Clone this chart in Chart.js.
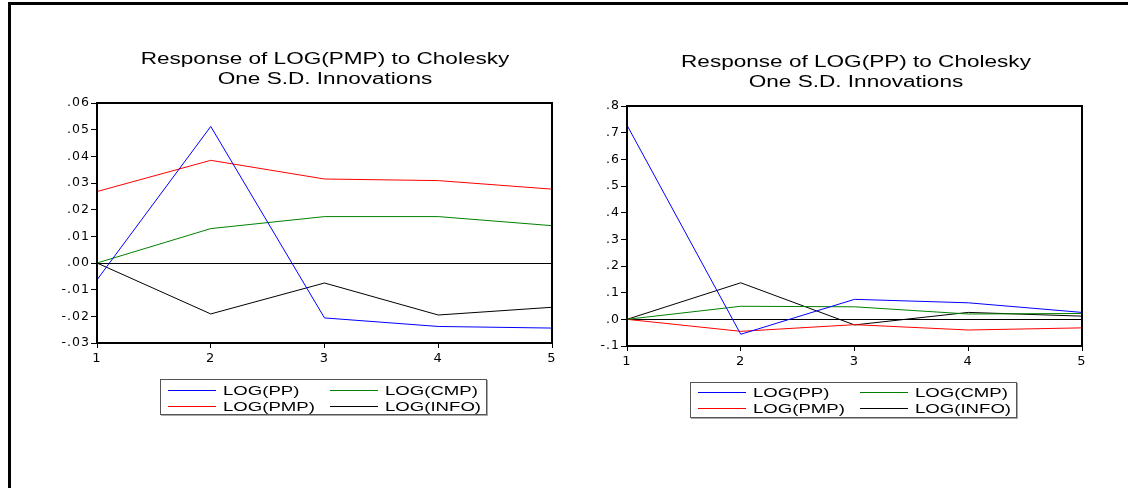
<!DOCTYPE html>
<html>
<head>
<meta charset="utf-8">
<script src="https://cdn.jsdelivr.net/npm/chart.js@4.4.1/dist/chart.umd.min.js"></script>
<style>
  html, body { margin: 0; padding: 0; background: #fff; }
  body { width: 1128px; height: 488px; position: relative; overflow: hidden; font-family: 'Liberation Sans', Arial, sans-serif; color: #000; }
  .frame { position: absolute; left: 8px; top: 2px; width: 1120px; height: 490px; border-left: 3px solid #000; border-top: 3px solid #000; box-sizing: border-box; }
  canvas { position: absolute; top: 0; }
  .title { position: absolute; width: 600px; text-align: center; font-size: 16px; line-height: 20px; white-space: nowrap; transform: scaleX(1.41); transform-origin: center; }
  .legend { position: absolute; width: 327px; height: 36px; border: 1px solid #555; box-sizing: border-box; box-shadow: 1px 1px 0 #aaa; background: #fff; }
  .legend .swatch { position: absolute; width: 48px; height: 1px; }
  .legend .label { position: absolute; font-size: 13px; line-height: 16px; white-space: nowrap; transform: scaleX(1.43); transform-origin: left center; }
</style>
</head>
<body>
<div class="frame"></div>

<canvas id="pmpChart" width="600" height="488" style="left:0px"></canvas>
<canvas id="ppChart" width="558" height="488" style="left:570px"></canvas>

<div class="title" style="left:25px; top:49px">Response of LOG(PMP) to Cholesky</div>
<div class="title" style="left:25px; top:69px">One S.D. Innovations</div>
<div class="title" style="left:556px; top:52px">Response of LOG(PP) to Cholesky</div>
<div class="title" style="left:556px; top:72px">One S.D. Innovations</div>

<div class="legend" id="pmpLegend" style="left:160px; top:379px"></div>
<div class="legend" id="ppLegend" style="left:690px; top:382px"></div>

<script>
// Periods after the shock
const periods = ['1', '2', '3', '4', '5'];

const seriesNames = ['LOG(PP)', 'LOG(CMP)', 'LOG(PMP)', 'LOG(INFO)'];
const seriesColors = ['#0000ff', '#008000', '#ff0000', '#000000'];

// Response of LOG(PMP)
const pmpPP   = [-0.0063, 0.0512, -0.0206, -0.0238, -0.0244];
const pmpCMP  = [0, 0.0129, 0.0174, 0.0174, 0.0140];
const pmpPMP  = [0.0268, 0.0385, 0.0315, 0.0309, 0.0277];
const pmpINFO = [0, -0.0191, -0.0075, -0.0195, -0.0166];
const pmpAxis = [-0.03, 0.06, 0.01];   // min, max, step

// Response of LOG(PP)
const ppPP   = [0.728, -0.056, 0.075, 0.062, 0.026];
const ppCMP  = [0, 0.049, 0.047, 0.020, 0.022];
const ppPMP  = [0, -0.045, -0.020, -0.040, -0.032];
const ppINFO = [0, 0.137, -0.021, 0.026, 0.012];
const ppAxis = [-0.1, 0.8, 0.1];

// EViews style labels: .05, -.01, .00
function tickLabel(value, decimals) {
    const v = Math.abs(value) < 1e-9 ? 0 : value;
    return v.toFixed(decimals).replace(/^(-?)0\./, '$1.');
}

// Wider letter spacing, zero line and the boxed plot area
const framePlugin = {
    id: 'frame',
    beforeUpdate(chart) {
        chart.ctx.letterSpacing = '1px';
    },
    beforeDraw(chart) {
        chart.ctx.letterSpacing = '1px';
    },
    beforeDatasetsDraw(chart) {
        const { ctx, chartArea } = chart;
        const y = Math.round(chart.scales.y.getPixelForValue(0)) + 0.5;
        ctx.save();
        ctx.strokeStyle = '#000';
        ctx.lineWidth = 1;
        ctx.beginPath();
        ctx.moveTo(chartArea.left, y);
        ctx.lineTo(chartArea.right, y);
        ctx.stroke();
        ctx.restore();
    },
    afterDatasetsDraw(chart) {
        const { ctx, chartArea } = chart;
        ctx.save();
        ctx.strokeStyle = '#000';
        ctx.lineWidth = 2;
        ctx.strokeRect(chartArea.left, chartArea.top, chartArea.right - chartArea.left, chartArea.bottom - chartArea.top);
        ctx.restore();
    }
};

function makeChart(id, series, axis, decimals, padding) {
    return new Chart(document.getElementById(id), {
        type: 'line',
        data: {
            labels: periods,
            datasets: series.map((values, i) => ({
                label: seriesNames[i],
                data: values,
                borderColor: seriesColors[i],
                borderWidth: 1,
                pointRadius: 0,
                tension: 0,
                fill: false
            }))
        },
        options: {
            responsive: false,
            animation: false,
            devicePixelRatio: 1,
            layout: { padding: padding },
            plugins: {
                legend: { display: false },
                title: { display: false },
                tooltip: { enabled: false }
            },
            scales: {
                x: {
                    grid: { drawOnChartArea: false, drawTicks: true, tickLength: 5, color: '#000', lineWidth: 1 },
                    border: { display: false },
                    ticks: { color: '#000', font: { family: 'DejaVu Sans', size: 13 }, padding: 3, maxRotation: 0, autoSkip: false },
                    afterFit: (scale) => { scale.height = 24; }
                },
                y: {
                    min: axis[0],
                    max: axis[1],
                    grid: { drawOnChartArea: false, drawTicks: true, tickLength: 6, color: '#000', lineWidth: 1 },
                    border: { display: false },
                    ticks: {
                        stepSize: axis[2],
                        color: '#000',
                        font: { family: 'DejaVu Sans', size: 12.5 },
                        padding: 1,
                        callback: (value) => tickLabel(value, decimals)
                    },
                    afterFit: (scale) => { scale.width = 45; }
                }
            }
        },
        plugins: [framePlugin]
    });
}

// Two-column legend box, same order as the datasets
function makeLegend(id, rowTop) {
    const box = document.getElementById(id);
    seriesNames.forEach((name, i) => {
        const col = i % 2, row = Math.floor(i / 2);
        const x = col === 0 ? 7 : 169;
        const y = rowTop + row * 16;
        const swatch = document.createElement('div');
        swatch.className = 'swatch';
        swatch.style.left = x + 'px';
        swatch.style.top = y + 'px';
        swatch.style.backgroundColor = seriesColors[i];
        box.appendChild(swatch);
        const label = document.createElement('div');
        label.className = 'label';
        label.style.left = (x + 55) + 'px';
        label.style.top = (y - 7) + 'px';
        label.textContent = name;
        box.appendChild(label);
    });
}

makeChart('pmpChart', [pmpPP, pmpCMP, pmpPMP, pmpINFO], pmpAxis, 2,
    { top: 103, left: 52, right: 48, bottom: 121 });
makeChart('ppChart', [ppPP, ppCMP, ppPMP, ppINFO], ppAxis, 1,
    { top: 106, left: 12, right: 46, bottom: 118 });

makeLegend('pmpLegend', 10);
makeLegend('ppLegend', 9);
</script>
</body>
</html>
